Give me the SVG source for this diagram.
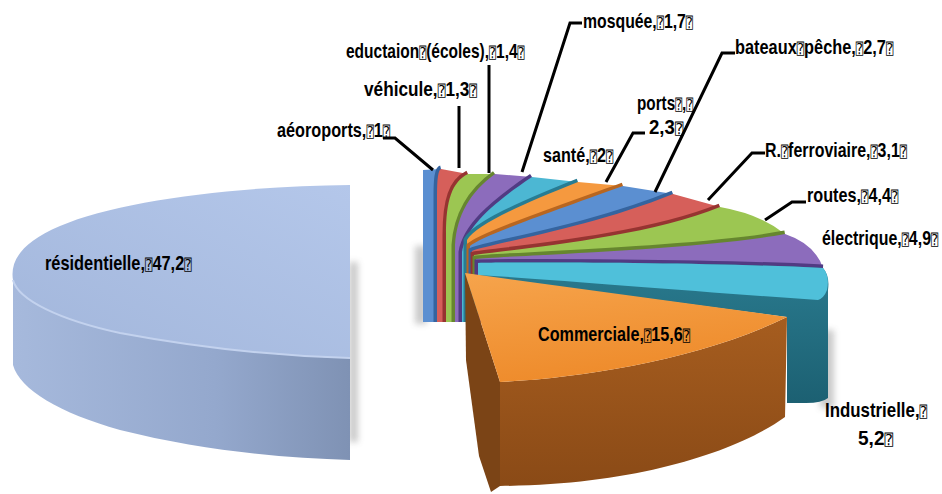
<svg xmlns="http://www.w3.org/2000/svg" width="942" height="494" viewBox="0 0 942 494">
<defs>
<style>
  .lbl{font-family:"Liberation Sans",Arial,sans-serif;font-weight:bold;font-size:20px;fill:#000}
  .q{font-family:"DejaVu Sans Mono","DejaVu Sans",monospace;font-weight:normal;font-size:15px}
  .lead{fill:none;stroke:#000;stroke-width:3;stroke-linejoin:miter}
  .edge{fill:none;stroke-width:7}
  .blue{fill:#5b8fd1}.blue-d{stroke:#35649f}
  .red{fill:#d65f5a}.red-d{stroke:#963431}
  .green{fill:#9cc652}.green-d{stroke:#66862f}
  .purple{fill:#8c6cbc}.purple-d{stroke:#513b83}
  .cyan{fill:#4cb7d3}.cyan-d{stroke:#277c93}
  .orange{fill:#f5993f}.orange-d{stroke:#b86620}
</style>
<filter id="soft" x="-50%" y="-50%" width="200%" height="200%"><feGaussianBlur stdDeviation="3"/></filter>
<linearGradient id="resTop" x1="1" y1="0" x2="0" y2="1">
  <stop offset="0" stop-color="#b4c7ea"/><stop offset="1" stop-color="#a2b6db"/>
</linearGradient>
<linearGradient id="resSide" x1="0" y1="0" x2="1" y2="0">
  <stop offset="0" stop-color="#a6b9dc"/><stop offset="0.6" stop-color="#94a8cd"/><stop offset="1" stop-color="#7f92b4"/>
</linearGradient>
<linearGradient id="comTop" x1="0" y1="0" x2="0.3" y2="1">
  <stop offset="0" stop-color="#f6a44c"/><stop offset="1" stop-color="#ee8b2b"/>
</linearGradient>
<linearGradient id="comSide" x1="0" y1="0" x2="0" y2="1">
  <stop offset="0" stop-color="#a65d1f"/><stop offset="1" stop-color="#8a4a16"/>
</linearGradient>
<linearGradient id="indSide" x1="0" y1="0" x2="0" y2="1">
  <stop offset="0" stop-color="#2a7b8f"/><stop offset="1" stop-color="#1c6072"/>
</linearGradient>
</defs>

<rect width="942" height="494" fill="#fff"/>

<!-- soft drop shadows under the pie pieces -->
<g id="shadows" fill="#8a8a8a" opacity="0.45" filter="url(#soft)">
  <rect x="415" y="246" width="12" height="78"/>
  <rect x="349" y="262" width="9" height="180"/>
  <rect x="820" y="330" width="14" height="78"/>
</g>

<!-- fan of small slices, drawn from back to front; labels are condensed horizontally -->
<g id="slice-aeroports">
  <path class="blue" d="M423,322 L423,170 L441,169 Q437,170 437,195 L437,322 Z"/>
  <path class="edge blue-d" d="M437,322 L437,195 Q437,170 441,169"/>
  <text class="lbl" transform="translate(277,137) scale(0.78,1)" textLength="145" lengthAdjust="spacingAndGlyphs">aéoroports,<tspan class="q">⍰</tspan>1<tspan class="q">⍰</tspan></text>
</g>
<g id="slice-vehicule">
  <path class="red" d="M437,322 L437,195 Q437,170 441,169 L468,174 C452,182 446,200 446,235 L446,322 Z"/>
  <path class="edge red-d" d="M446,322 L446,235 C446,200 452,182 468,174"/>
  <text class="lbl" transform="translate(364,96) scale(0.78,1)" textLength="145" lengthAdjust="spacingAndGlyphs">véhicule,<tspan class="q">⍰</tspan>1,3<tspan class="q">⍰</tspan></text>
</g>
<g id="slice-education">
  <path class="green" d="M446,322 L446,235 C446,200 452,182 468,174 L495,174 C470,192 457,215 455,245 L455,322 Z"/>
  <path class="edge green-d" d="M455,322 L455,245 C457,215 470,192 495,174"/>
  <text class="lbl" transform="translate(346,58) scale(0.78,1)" textLength="229" lengthAdjust="spacingAndGlyphs">eductaion<tspan class="q">⍰</tspan>(écoles),<tspan class="q">⍰</tspan>1,4<tspan class="q">⍰</tspan></text>
</g>
<g id="slice-mosquee">
  <path class="purple" d="M455,322 L455,245 C457,215 470,192 495,174 L532,177 C490,205 466,228 462,252 L462,322 Z"/>
  <path class="edge purple-d" d="M462,322 L462,252 C466,228 490,205 532,177"/>
  <text class="lbl" transform="translate(583,28) scale(0.78,1)" textLength="141" lengthAdjust="spacingAndGlyphs">mosquée,<tspan class="q">⍰</tspan>1,7<tspan class="q">⍰</tspan></text>
</g>
<g id="slice-sante">
  <path class="cyan" d="M462,322 L462,252 C466,228 490,205 532,177 L578,182 C520,205 476,225 467,240 L467,322 Z"/>
  <path class="edge cyan-d" d="M467,322 L467,240 C476,225 520,205 578,182"/>
  <text class="lbl" transform="translate(543,162) scale(0.78,1)" textLength="90" lengthAdjust="spacingAndGlyphs">santé,<tspan class="q">⍰</tspan>2<tspan class="q">⍰</tspan></text>
</g>
<g id="slice-ports">
  <path class="orange" d="M467,322 L467,240 C476,225 520,205 578,182 L623,186 C545,214 482,236 470,246 L470,322 Z"/>
  <path class="edge orange-d" d="M470,322 L470,246 C482,236 545,214 623,186"/>
  <text class="lbl" transform="translate(637,110) scale(0.78,1)" textLength="72" lengthAdjust="spacingAndGlyphs">ports<tspan class="q">⍰</tspan>,<tspan class="q">⍰</tspan></text>
  <text class="lbl" transform="translate(649,134) scale(0.78,1)" textLength="44" lengthAdjust="spacingAndGlyphs">2,3<tspan class="q">⍰</tspan></text>
</g>
<g id="slice-bateaux">
  <path class="blue" d="M470,322 L470,246 C482,236 545,214 623,186 L673,194 C590,228 488,244 472,251 L472,322 Z"/>
  <path class="edge blue-d" d="M472,322 L472,251 C488,244 590,228 673,194"/>
  <text class="lbl" transform="translate(735,54) scale(0.78,1)" textLength="203" lengthAdjust="spacingAndGlyphs">bateaux<tspan class="q">⍰</tspan>pêche,<tspan class="q">⍰</tspan>2,7<tspan class="q">⍰</tspan></text>
</g>
<g id="slice-ferroviaire">
  <path class="red" d="M472,322 L472,251 C488,244 590,228 673,194 L720,207 C640,240 494,251 474,255 L474,322 Z"/>
  <path class="edge red-d" d="M474,322 L474,255 C494,251 640,240 720,207"/>
  <text class="lbl" transform="translate(765,157) scale(0.78,1)" textLength="182" lengthAdjust="spacingAndGlyphs">R.<tspan class="q">⍰</tspan>ferroviaire,<tspan class="q">⍰</tspan>3,1<tspan class="q">⍰</tspan></text>
</g>
<g id="slice-routes">
  <path class="green" d="M474,322 L474,255 C494,251 640,240 720,207 Q760,214 785,234 C700,250 500,256 476,259 L476,322 Z"/>
  <path class="edge green-d" d="M476,322 L476,259 C500,256 700,250 785,234"/>
  <text class="lbl" transform="translate(807,202) scale(0.78,1)" textLength="117" lengthAdjust="spacingAndGlyphs">routes,<tspan class="q">⍰</tspan>4,4<tspan class="q">⍰</tspan></text>
</g>
<g id="slice-electrique">
  <path class="purple" d="M476,322 L476,259 C500,256 700,250 785,234 Q815,244 823,268 C700,262 520,262 478,263 L478,322 Z"/>
  <path class="edge purple-d" d="M478,322 L478,263 C520,262 700,262 823,268"/>
  <text class="lbl" transform="translate(822,245) scale(0.78,1)" textLength="149" lengthAdjust="spacingAndGlyphs">électrique,<tspan class="q">⍰</tspan>4,9<tspan class="q">⍰</tspan></text>
</g>
<g id="slice-industrielle">
  <path fill="url(#indSide)" d="M478,322 L478,263 C520,262 700,262 823,268 Q830,276 828,290 L828,398 Q822,403 806,403 L787,403 L787,317 L465,275 L465,322 Z"/>
  <path fill="#4fc0da" d="M478,275 L478,263 C520,262 700,262 823,268 Q830,276 827,290 Q824,298 818,300 C700,292 560,280 478,275 Z"/>
  <text class="lbl" transform="translate(825,417) scale(0.78,1)" textLength="131" lengthAdjust="spacingAndGlyphs">Industrielle,<tspan class="q">⍰</tspan></text>
  <text class="lbl" transform="translate(858,445) scale(0.78,1)" textLength="45" lengthAdjust="spacingAndGlyphs">5,2<tspan class="q">⍰</tspan></text>
</g>

<!-- large front slice -->
<g id="slice-commerciale">
  <path fill="#7b4416" d="M465,273 L500,382 L500,486 L491,492 L479,456 L466,360 Z"/>
  <path fill="url(#comSide)" d="M500,382 C580,378 700,360 787,317 L785,417 C740,450 640,485 500,486 Z"/>
  <path fill="url(#comTop)" d="M465,273 L787,317 C700,360 580,378 500,382 Z"/>
  <text class="lbl" transform="translate(538,341) scale(0.78,1)" textLength="195" lengthAdjust="spacingAndGlyphs">Commerciale,<tspan class="q">⍰</tspan>15,6<tspan class="q">⍰</tspan></text>
</g>

<!-- exploded slice on the left -->
<g id="slice-residentielle">
  <path fill="url(#resSide)" d="M13,280 C18,300 60,320 120,333 C200,348 280,356 350,358 L350,460 C280,458 200,450 120,430 C60,413 20,390 13,365 Z"/>
  <path fill="url(#resTop)" d="M350,185 C240,186 120,200 60,226 C20,243 10,262 13,280 C18,300 60,320 120,333 C200,348 280,356 350,358 Z"/>
  <path fill="none" stroke="#c3d2ee" stroke-width="2" d="M13,280 C18,300 60,320 120,333 C200,348 280,356 350,358"/>
  <text class="lbl" transform="translate(45,270) scale(0.78,1)" textLength="188" lengthAdjust="spacingAndGlyphs">résidentielle,<tspan class="q">⍰</tspan>47,2<tspan class="q">⍰</tspan></text>
</g>

<!-- label leader lines -->
<g id="connectors">
  <polyline class="lead" points="383,138 395,138 433,170"/>
  <polyline class="lead" points="459,106 459,168"/>
  <polyline class="lead" points="489,65 489,173"/>
  <polyline class="lead" points="582,23 570,23 522,172"/>
  <polyline class="lead" points="645,133 633,133 606,182"/>
  <polyline class="lead" points="735,53 722,53 655,192"/>
  <polyline class="lead" points="765,153 752,153 708,200"/>
  <polyline class="lead" points="806,202 792,202 765,220"/>
</g>
</svg>
